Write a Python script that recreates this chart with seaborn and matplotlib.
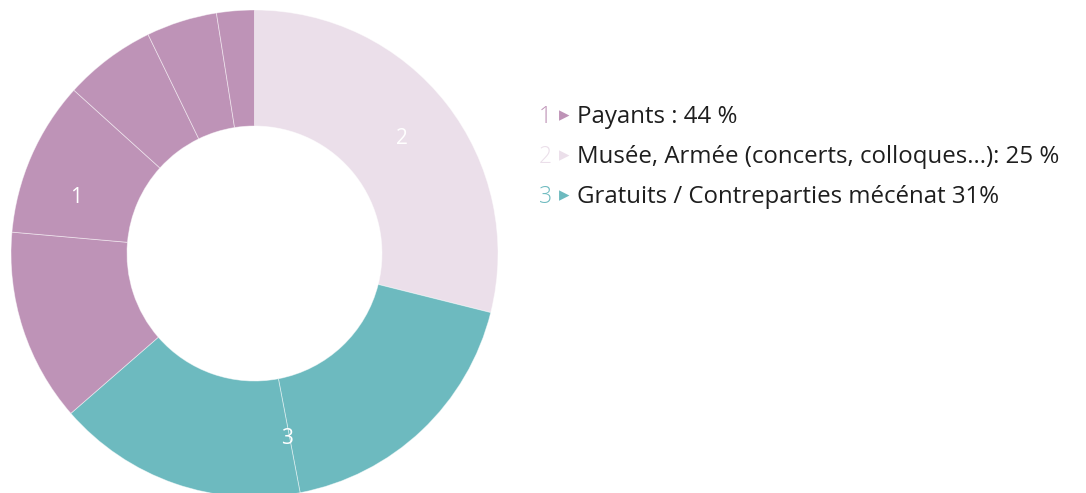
import numpy as np
import matplotlib
matplotlib.use("Agg")
import matplotlib.pyplot as plt
import seaborn as sns

# Slice shares (percent), drawn clockwise from 12 o'clock
slice_values = [28.9, 18.1, 16.6, 12.8, 10.3, 6.1, 4.7, 2.5]
slice_groups = [2, 3, 3, 1, 1, 1, 1, 1]

group_ids = [1, 2, 3]
group_labels = [
    "Payants : 44 %",
    "Musée, Armée (concerts, colloques...): 25 %",
    "Gratuits / Contreparties mécénat 31%",
]
group_colors = {1: "#BE93B7", 2: "#EBDFEA", 3: "#6DBABF"}
# angular position (degrees clockwise from top) of each group's number inside the ring
group_label_angle = {1: 287.5, 2: 52.0, 3: 170.0}

sns.set_theme(style="white")
plt.rcParams["font.family"] = ["Open Sans", "DejaVu Sans"]

W, H = 1086, 493
fig = plt.figure(figsize=(W / 100, H / 100), dpi=100)
ax = fig.add_axes([0, 0, 1, 1])

cx, cy = 254.5, H - 253.5
r_out, r_in = 243.5, 127.5

colors = [group_colors[g] for g in slice_groups]
ax.pie(
    slice_values,
    colors=colors,
    startangle=90,
    counterclock=False,
    center=(cx, cy),
    radius=r_out,
    wedgeprops=dict(width=r_out - r_in, edgecolor=(1, 1, 1, 0.5), linewidth=0.6),
)
ax.set_xlim(0, W)
ax.set_ylim(0, H)
ax.set_aspect("equal")
ax.axis("off")

# group numbers inside the ring
r_lab = (r_out + r_in) / 2 + 2
for g in group_ids:
    th = np.deg2rad(group_label_angle[g])
    ax.text(cx + r_lab * np.sin(th), cy + r_lab * np.cos(th), str(g),
            color="white", fontsize=15, ha="center", va="center")

# legend on the right
y0, dy = H - 117, 40
for i, (g, lab) in enumerate(zip(group_ids, group_labels)):
    y = y0 - i * dy
    num = ax.text(539, y, str(g), color=group_colors[g], fontsize=16.5,
                  ha="left", va="center", fontweight="light")
    tri = ax.annotate("▸", xy=(1, 0.5), xycoords=num, xytext=(5, 1),
                      textcoords="offset points", color=group_colors[g],
                      fontsize=15, ha="left", va="center",
                      family=["DejaVu Sans"])
    ax.annotate(lab, xy=(1, 0.5), xycoords=tri, xytext=(5, -1),
                textcoords="offset points", color="#1E1E1E",
                fontsize=17.3, ha="left", va="center")

fig.savefig("out.png", dpi=100)
